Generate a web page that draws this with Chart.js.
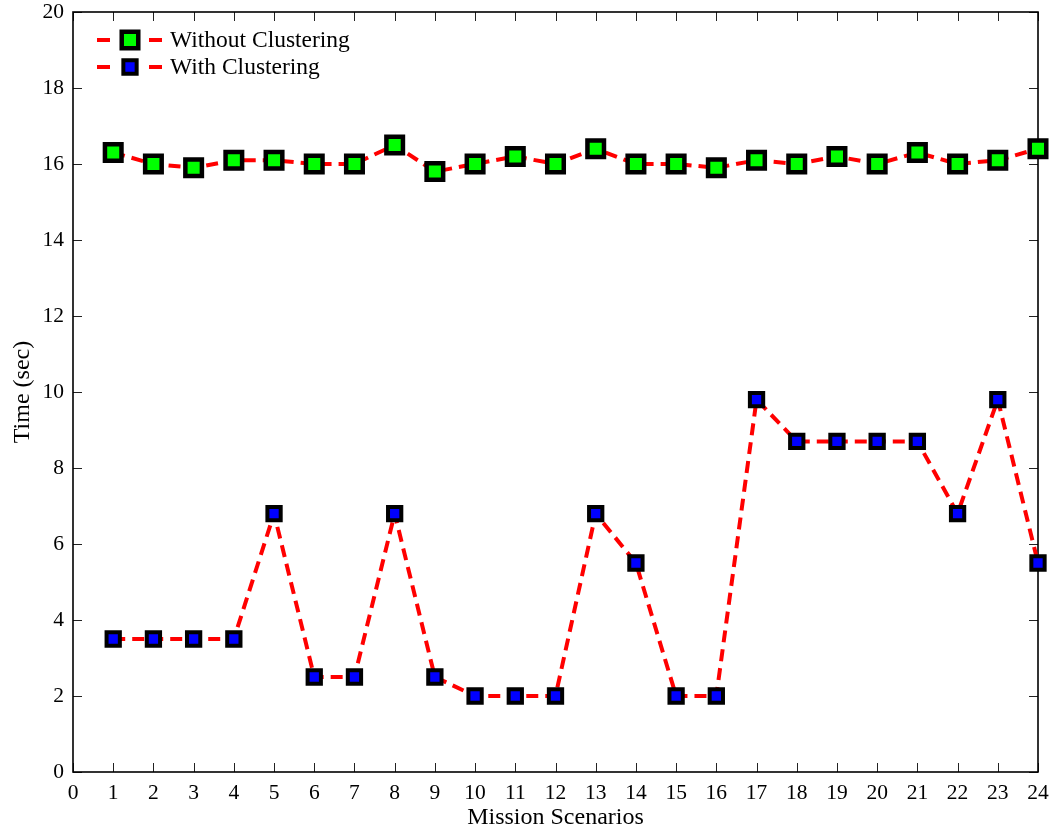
<!DOCTYPE html>
<html>
<head>
<meta charset="utf-8">
<title>Mission Scenarios – Time</title>
<script src="https://cdn.jsdelivr.net/npm/chart.js@4/dist/chart.umd.min.js"></script>
<style>
  html, body { margin: 0; padding: 0; background: #ffffff; }
  #wrap { width: 1054px; height: 830px; position: relative; }
</style>
</head>
<body>
<div id="wrap"><canvas id="chart" width="1054" height="830"></canvas></div>
<script>
// Mission scenario numbers (x) and measured times in seconds (y)
const scenarios = [1, 2, 3, 4, 5, 6, 7, 8, 9, 10, 11, 12, 13, 14, 15, 16, 17, 18, 19, 20, 21, 22, 23, 24];
const withoutClustering = [16.3, 16.0, 15.9, 16.1, 16.1, 16.0, 16.0, 16.5, 15.8, 16.0, 16.2, 16.0,
                           16.4, 16.0, 16.0, 15.9, 16.1, 16.0, 16.2, 16.0, 16.3, 16.0, 16.1, 16.4];
const withClustering = [3.5, 3.5, 3.5, 3.5, 6.8, 2.5, 2.5, 6.8, 2.5, 2.0, 2.0, 2.0,
                        6.8, 5.5, 2.0, 2.0, 9.8, 8.7, 8.7, 8.7, 8.7, 6.8, 9.8, 5.5];
const seriesNames = ['Without Clustering', 'With Clustering'];
const xTickValues = [0, 1, 2, 3, 4, 5, 6, 7, 8, 9, 10, 11, 12, 13, 14, 15, 16, 17, 18, 19, 20, 21, 22, 23, 24];
const yTickValues = [0, 2, 4, 6, 8, 10, 12, 14, 16, 18, 20];

const FONT = "'Liberation Serif', 'Times New Roman', serif";
Chart.defaults.font.family = FONT;
Chart.defaults.font.size = 21;
Chart.defaults.color = '#000000';

function toPoints(values) {
  return values.map((v, i) => ({ x: scenarios[i], y: v }));
}

// Box frame with inward tick marks on all four sides
const framePlugin = {
  id: 'frame',
  beforeDatasetsDraw(chart) {
    const { ctx, chartArea: a, scales: { x, y } } = chart;
    ctx.save();
    ctx.strokeStyle = '#222222';
    ctx.lineWidth = 1;
    const tl = 9;
    ctx.beginPath();
    xTickValues.forEach(v => {
      const px = Math.round(x.getPixelForValue(v)) + 0.5;
      ctx.moveTo(px, a.bottom); ctx.lineTo(px, a.bottom - tl);
      ctx.moveTo(px, a.top); ctx.lineTo(px, a.top + tl);
    });
    yTickValues.forEach(v => {
      const py = Math.round(y.getPixelForValue(v)) + 0.5;
      ctx.moveTo(a.left, py); ctx.lineTo(a.left + tl, py);
      ctx.moveTo(a.right, py); ctx.lineTo(a.right - tl, py);
    });
    ctx.stroke();
    ctx.strokeStyle = '#000000';
    ctx.lineWidth = 1.6;
    ctx.strokeRect(a.left, a.top, a.right - a.left, a.bottom - a.top);
    ctx.restore();
  }
};

// Legend in the upper-left corner: dash, marker, dash, label
const legendPlugin = {
  id: 'cornerLegend',
  afterDraw(chart) {
    const { ctx } = chart;
    const rows = [40, 67];
    chart.data.datasets.forEach((ds, i) => {
      const yy = rows[i];
      ctx.save();
      ctx.strokeStyle = ds.borderColor;
      ctx.lineWidth = ds.borderWidth;
      ctx.beginPath();
      ctx.moveTo(97, yy); ctx.lineTo(110, yy);
      ctx.moveTo(149, yy); ctx.lineTo(162, yy);
      ctx.stroke();
      ctx.fillStyle = ds.pointBackgroundColor;
      ctx.strokeStyle = ds.pointBorderColor;
      ctx.lineWidth = ds.pointBorderWidth;
      Chart.helpers.drawPoint(ctx, {
        pointStyle: 'rect', radius: ds.pointRadius, rotation: 0, borderWidth: ds.pointBorderWidth
      }, 130, yy);
      ctx.fillStyle = '#000000';
      ctx.font = '23.5px ' + FONT;
      ctx.textBaseline = 'middle';
      ctx.textAlign = 'left';
      ctx.fillText(ds.label, 170, yy + 1);
      ctx.restore();
    });
  }
};

new Chart(document.getElementById('chart'), {
  type: 'line',
  data: {
    datasets: [
      {
        label: seriesNames[0],
        data: toPoints(withoutClustering),
        borderColor: '#ff0000',
        borderWidth: 4,
        borderDash: [12, 7],
        pointStyle: 'rect',
        pointRadius: 11.7,
        pointBorderWidth: 4.5,
        pointBackgroundColor: '#00ff00',
        pointBorderColor: '#000000',
        tension: 0,
        clip: false
      },
      {
        label: seriesNames[1],
        data: toPoints(withClustering),
        borderColor: '#ff0000',
        borderWidth: 4,
        borderDash: [12, 7],
        pointStyle: 'rect',
        pointRadius: 9.4,
        pointBorderWidth: 4,
        pointBackgroundColor: '#0000ff',
        pointBorderColor: '#000000',
        tension: 0,
        clip: false
      }
    ]
  },
  options: {
    responsive: false,
    animation: false,
    layout: { autoPadding: false, padding: { left: 0, top: 12, right: 16, bottom: 0 } },
    plugins: {
      legend: { display: false },
      tooltip: { enabled: false }
    },
    scales: {
      x: {
        type: 'linear',
        min: 0,
        max: 24,
        afterBuildTicks(scale) { scale.ticks = xTickValues.map(v => ({ value: v })); },
        afterFit(scale) { scale.height = 58; scale.paddingLeft = 0; scale.paddingRight = 0; },
        grid: { display: false, drawTicks: false },
        border: { display: false },
        ticks: { padding: 8, maxRotation: 0, autoSkip: false, font: { size: 21.5 } },
        title: { display: true, text: 'Mission Scenarios', font: { size: 24, lineHeight: 1.0 }, padding: { top: 0, bottom: 0 } }
      },
      y: {
        type: 'linear',
        min: 0,
        max: 20,
        afterBuildTicks(scale) { scale.ticks = yTickValues.map(v => ({ value: v })); },
        afterFit(scale) { scale.width = 73; scale.paddingTop = 0; scale.paddingBottom = 0; },
        grid: { display: false, drawTicks: false },
        border: { display: false },
        ticks: { padding: 9, font: { size: 21.5 } },
        title: { display: true, text: 'Time (sec)', font: { size: 24 }, padding: { top: 8, bottom: 0 } }
      }
    }
  },
  plugins: [framePlugin, legendPlugin]
});
</script>
</body>
</html>
